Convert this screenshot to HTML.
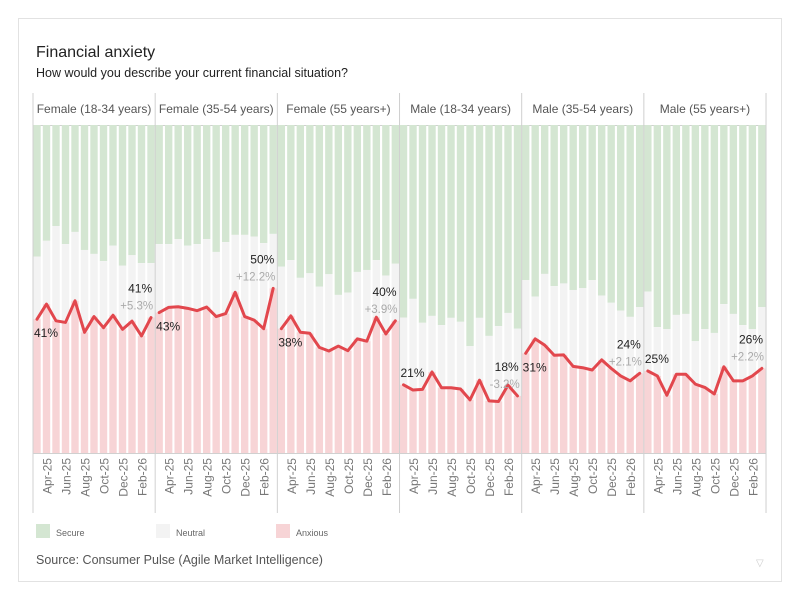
<!DOCTYPE html>
<html><head><meta charset="utf-8"><style>
body{margin:0;background:#fff;font-family:"Liberation Sans",sans-serif}
svg{display:block}
</style></head><body>
<svg id="c" width="800" height="600">
<rect x="18.5" y="18.5" width="763" height="563" fill="#fff" stroke="#e2e2e2"/>
<text x="36" y="57" font-size="16" fill="#222">Financial anxiety</text>
<text x="36" y="77" font-size="12.5" fill="#222">How would you describe your current financial situation?</text>
<g id="g"></g>
<rect x="36" y="524" width="14" height="14" fill="#d4e6d2"/>
<text x="56" y="536" font-size="9" fill="#666">Secure</text>
<rect x="156" y="524" width="14" height="14" fill="#f3f3f3"/>
<text x="176" y="536" font-size="9" fill="#666">Neutral</text>
<rect x="276" y="524" width="14" height="14" fill="#f7d4d6"/>
<text x="296" y="536" font-size="9" fill="#666">Anxious</text>
<text x="36" y="564" font-size="12.5" fill="#555">Source: Consumer Pulse (Agile Market Intelligence)</text>
<text x="756" y="566" font-size="10" fill="#ccc">▽</text>
</svg>
<script>
const months=["Mar-25","Apr-25","May-25","Jun-25","Jul-25","Aug-25","Sep-25","Oct-25","Nov-25","Dec-25","Jan-26","Feb-26","Mar-26"];
const tickMonths=["Apr-25","Jun-25","Aug-25","Oct-25","Dec-25","Feb-26"];
const panels=["Female (18-34 years)","Female (35-54 years)","Female (55 years+)","Male (18-34 years)","Male (35-54 years)","Male (55 years+)"];
const anxious=[
[40.8,45.4,40.3,39.8,46.4,36.8,41.6,38.2,42.0,37.7,40.2,35.7,41.3],
[42.8,44.4,44.6,44.1,43.4,44.5,41.6,42.5,49.0,41.6,40.5,37.9,50.2],
[37.9,41.8,36.8,36.5,32.2,31.1,32.6,31.2,34.8,34.1,41.4,36.3,40.3],
[20.8,19.2,19.4,24.7,19.9,19.9,19.5,16.2,22.2,15.9,15.7,20.7,17.4],
[30.4,34.8,32.9,29.8,29.9,26.4,26.0,25.3,28.4,25.8,23.5,22.0,24.3],
[25.0,23.5,17.6,24.0,24.0,21.0,20.0,18.0,26.3,22.0,22.0,23.5,25.8]];
const anxiousOrNeutral=[
[59.9,64.7,69.2,63.7,67.4,61.9,60.7,58.5,63.2,57.1,60.3,57.9,57.9],
[63.7,63.7,65.2,63.2,63.7,65.2,61.3,64.3,66.5,66.5,66.0,64.0,66.8],
[56.8,58.8,53.4,54.8,50.7,54.5,48.2,48.9,55.2,55.8,58.8,54.1,57.7],
[41.3,47.0,39.7,41.8,39.0,41.2,40.0,32.6,41.2,35.7,38.7,42.7,37.9],
[52.7,47.7,54.6,50.9,51.7,49.7,50.3,52.7,48.0,45.8,43.4,41.5,44.5],
[49.2,38.4,37.8,42.1,42.4,34.1,37.8,36.6,45.4,42.4,39.0,37.8,44.5]];
const startLabels=["41%","43%","38%","21%","31%","25%"];
const endLabels=["41%","50%","40%","18%","24%","26%"];
const deltaLabels=["+5.3%","+12.2%","+3.9%","-3.2%","+2.1%","+2.2%"];
const startBelow=[true,true,true,false,true,false];

const NS="http://www.w3.org/2000/svg",g=document.getElementById('g');
const X0=33,PW=122.17,TOP=125,BOT=453,STEP=9.5,BW=7.4;
const y=v=>BOT-(BOT-TOP)*v/100;
const xb=(p,i)=>X0+p*PW+i*STEP+0.3;
function el(t,a,txt){const e=document.createElementNS(NS,t);for(const k in a)e.setAttribute(k,a[k]);if(txt!=null)e.textContent=txt;g.appendChild(e);return e;}
let e=el('line',{x1:X0,x2:X0+6*PW,y1:125.5,y2:125.5,stroke:'#d0d0d0'});


panels.forEach((name,p)=>{
  const px=X0+p*PW;
  let h=el('text',{x:px+PW/2,y:113,'font-size':12,fill:'#555','text-anchor':'middle'},name);
  
  
  months.forEach((m,i)=>{
    const x=xb(p,i);
    let r=el('rect',{x:x,width:BW,y:TOP,height:y(anxiousOrNeutral[p][i])-TOP,fill:'#d4e6d2'});
    
    
    r=el('rect',{x:x,width:BW,y:y(anxiousOrNeutral[p][i]),height:y(anxious[p][i])-y(anxiousOrNeutral[p][i]),fill:'#f3f3f3'});
    
    
    r=el('rect',{x:x,width:BW,y:y(anxious[p][i]),height:BOT-y(anxious[p][i]),fill:'#f7d4d6'});
    
    
  });
  const pts=anxious[p].map((v,i)=>(xb(p,i)+BW/2)+','+y(v)).join(' ');
  let l=el('polyline',{points:pts,fill:'none',stroke:'#e2474d','stroke-width':3,'stroke-linejoin':'round','stroke-linecap':'round'});
  
  
  const y0=y(anxious[p][0]),yl=y(anxious[p][12]);
  let t=el('text',{x:px+1,y:startBelow[p]?y0+18:y0-8,'font-size':12,fill:'#222'},startLabels[p]);
  
  
  t=el('text',{x:px+PW-3,y:yl-25,'font-size':12,fill:'#222','text-anchor':'end'},endLabels[p]);
  
  
  t=el('text',{x:px+PW-2,y:yl-8,'font-size':11.5,fill:'#aaa','text-anchor':'end'},deltaLabels[p]);
  
  
  tickMonths.forEach(m=>{
    const i=months.indexOf(m),cx=xb(p,i)+BW/2+5;
    let tk=el('text',{x:cx,y:458,'font-size':12,fill:'#777','text-anchor':'end',transform:`rotate(-90 ${cx} 458)`},m);
    
    
  });
});
for(let p=0;p<=6;p++){
  const px=X0+p*PW;
  let d=el('line',{x1:px,x2:px,y1:93,y2:513,stroke:'#d0d0d0'});
  
  
}
e=el('line',{x1:X0,x2:X0+6*PW,y1:453.5,y2:453.5,stroke:'#d0d0d0'});


</script>
</body></html>
